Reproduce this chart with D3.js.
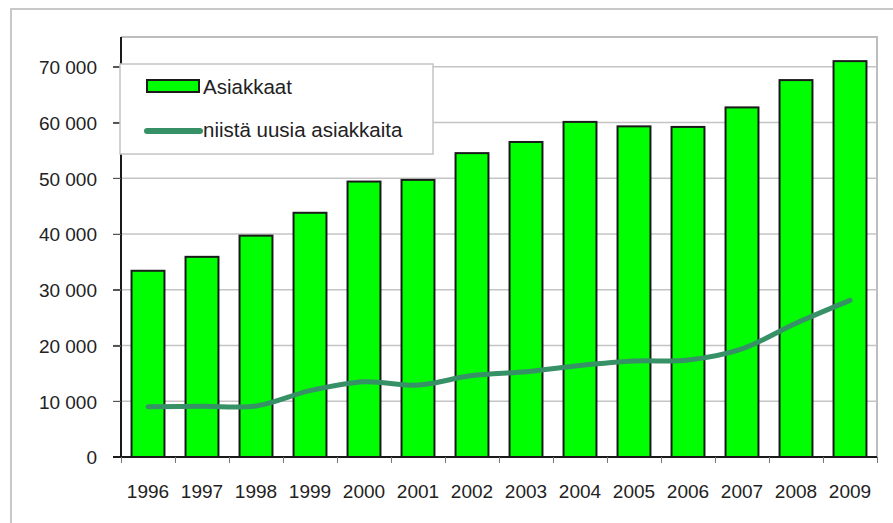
<!DOCTYPE html>
<html>
<head>
<meta charset="utf-8">
<style>
  body { margin: 0; background: #fff; }
  svg { display: block; font-family: "Liberation Sans", Arial, sans-serif; }
  .axis path, .axis line { fill: none; shape-rendering: crispEdges; }
  .axis text { fill: #222; font-size: 19px; }
  .grid line { stroke: #c4c4c4; stroke-width: 1.5px; }
  .legend text { fill: #222; font-size: 20.5px; }
</style>
<script src="https://cdnjs.cloudflare.com/ajax/libs/d3/7.8.5/d3.min.js"></script>
</head>
<body>
<script>
  // data
  var years = ["1996", "1997", "1998", "1999", "2000", "2001", "2002",
               "2003", "2004", "2005", "2006", "2007", "2008", "2009"];
  var asiakkaat = [33400, 35900, 39700, 43800, 49400, 49700, 54500,
                   56500, 60100, 59300, 59200, 62700, 67600, 71000];
  var uusia = [9000, 9100, 9150, 11900, 13500, 12900, 14600,
               15300, 16400, 17200, 17400, 19400, 24000, 28100];
  var yTicks = [0, 10000, 20000, 30000, 40000, 50000, 60000, 70000];
  var seriesNames = ["Asiakkaat", "niistä uusia asiakkaita"];

  var W = 893, H = 523;
  var plot = { left: 121, right: 877, top: 37, bottom: 457 };

  var svg = d3.select("body").append("svg")
    .attr("width", W)
    .attr("height", H);

  // outer frame (runs off the right and bottom edges)
  svg.append("rect")
    .attr("x", 11).attr("y", 9)
    .attr("width", W + 20).attr("height", H + 20)
    .attr("fill", "#fff")
    .attr("stroke", "#c8c8c8")
    .attr("stroke-width", 2);

  var x = d3.scaleBand()
    .domain(years)
    .range([plot.left, plot.right])
    .paddingInner(0.39)
    .paddingOuter(0.195);

  var xEdges = d3.scaleLinear()
    .domain([0, years.length])
    .range([plot.left, plot.right]);

  var y = d3.scaleLinear()
    .domain([0, 70000])
    .range([plot.bottom, 66.7]);

  // plot area border (top/right)
  svg.append("path")
    .attr("d", "M" + plot.left + "," + plot.top + "H" + plot.right + "V" + plot.bottom)
    .attr("fill", "none")
    .attr("stroke", "#bdbdbd")
    .attr("stroke-width", 2);

  // gridlines
  svg.append("g")
    .attr("class", "grid")
    .selectAll("line")
    .data(yTicks.filter(d => d > 0))
    .join("line")
    .attr("x1", plot.left - 8)
    .attr("x2", plot.right)
    .attr("y1", d => y(d))
    .attr("y2", d => y(d));

  // bars
  svg.append("g")
    .selectAll("rect")
    .data(asiakkaat)
    .join("rect")
    .attr("x", (d, i) => x(years[i]))
    .attr("y", d => y(d))
    .attr("width", x.bandwidth())
    .attr("height", d => y(0) - y(d))
    .attr("fill", "#00ff00")
    .attr("stroke", "#1a1a1a")
    .attr("stroke-width", 2);

  // line
  var line = d3.line()
    .x((d, i) => x(years[i]) + x.bandwidth() / 2)
    .y(d => y(d))
    .curve(d3.curveCatmullRom.alpha(0.5));

  svg.append("path")
    .datum(uusia)
    .attr("d", line)
    .attr("fill", "none")
    .attr("stroke", "#379167")
    .attr("stroke-width", 5)
    .attr("stroke-linecap", "round")
    .attr("stroke-linejoin", "round");

  // y axis
  var fmt = d3.formatLocale({ decimal: ",", thousands: " ", grouping: [3], currency: ["", ""] }).format(",");
  var yAxis = svg.append("g")
    .attr("class", "axis")
    .attr("transform", "translate(" + plot.left + ",0)")
    .call(d3.axisLeft(y).tickValues(yTicks).tickFormat(fmt).tickSize(8).tickPadding(16).tickSizeOuter(0));
  yAxis.select(".domain").attr("stroke", "#1a1a1a").attr("stroke-width", 2)
    .attr("d", "M0," + plot.top + "V" + plot.bottom);
  yAxis.selectAll(".tick line").attr("stroke", "#555").attr("stroke-width", 1.5);
  yAxis.selectAll("text").attr("dy", "0.36em");

  // x axis: tick marks at category edges, labels centred
  var xTickAxis = svg.append("g")
    .attr("class", "axis")
    .attr("transform", "translate(0," + plot.bottom + ")")
    .call(d3.axisBottom(xEdges).ticks(years.length).tickFormat("").tickSize(6).tickSizeOuter(0));
  xTickAxis.select(".domain").attr("stroke", "#1a1a1a").attr("stroke-width", 2)
    .attr("d", "M" + (plot.left - 8) + ",0H" + plot.right);
  xTickAxis.selectAll(".tick line").attr("stroke", "#777").attr("stroke-width", 1.5);

  var xAxis = svg.append("g")
    .attr("class", "axis")
    .attr("transform", "translate(0," + plot.bottom + ")")
    .call(d3.axisBottom(x).tickSize(0).tickPadding(28));
  xAxis.select(".domain").remove();

  // legend
  var legend = svg.append("g").attr("class", "legend");
  legend.append("rect")
    .attr("x", 120).attr("y", 64)
    .attr("width", 313).attr("height", 90)
    .attr("fill", "#fff")
    .attr("stroke", "#c4c4c4")
    .attr("stroke-width", 1.5);
  legend.append("rect")
    .attr("x", 147).attr("y", 80)
    .attr("width", 52).attr("height", 12)
    .attr("fill", "#00ff00")
    .attr("stroke", "#1a1a1a")
    .attr("stroke-width", 2);
  legend.append("line")
    .attr("x1", 147).attr("x2", 200)
    .attr("y1", 131).attr("y2", 131)
    .attr("stroke", "#379167")
    .attr("stroke-width", 6)
    .attr("stroke-linecap", "round");
  legend.selectAll("text")
    .data(seriesNames)
    .join("text")
    .attr("x", 203)
    .attr("y", (d, i) => i === 0 ? 94 : 137)
    .text(d => d);
</script>
</body>
</html>
